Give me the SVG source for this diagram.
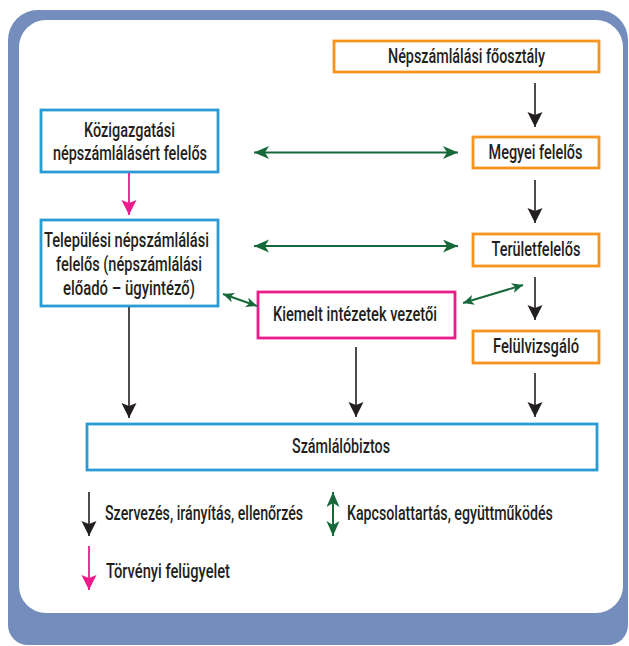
<svg xmlns="http://www.w3.org/2000/svg" width="629" height="646" viewBox="0 0 629 646">
<style>
.box{fill:#fff;stroke-width:2.8}
.or{stroke:#f7941d}
.bl{stroke:#2a9bd5}
.pk{stroke:#ec1c8c}
text{font-family:Roboto,"Liberation Sans",Arial,sans-serif;font-weight:500;font-size:20px;fill:#231f20;text-anchor:middle}
.lg{text-anchor:start}
.k{stroke:#231f20;stroke-width:1.6;fill:none}
.p{stroke:#ec1c8c;stroke-width:1.8;fill:none}
.g{stroke:#17693a;stroke-width:2;fill:none}
</style>
<defs>
<marker id="ak" markerUnits="userSpaceOnUse" markerWidth="16" markerHeight="16" refX="15" refY="7.5" orient="auto" viewBox="0 0 16 16">
<path d="M0,0 L15,7.5 L0,15 L3,7.5 Z" fill="#231f20"/>
</marker>
<marker id="ap" markerUnits="userSpaceOnUse" markerWidth="16" markerHeight="16" refX="15" refY="7.5" orient="auto" viewBox="0 0 16 16">
<path d="M0,0 L15,7.5 L0,15 L3,7.5 Z" fill="#ec1c8c"/>
</marker>
<marker id="ag" markerUnits="userSpaceOnUse" markerWidth="16" markerHeight="14" refX="15" refY="6.5" orient="auto-start-reverse" viewBox="0 0 16 14">
<path d="M0,0 L15,6.5 L0,13 L4,6.5 Z" fill="#17693a"/>
</marker>
<marker id="ags" markerUnits="userSpaceOnUse" markerWidth="12" markerHeight="10" refX="11" refY="5" orient="auto-start-reverse" viewBox="0 0 12 10">
<path d="M0,0 L11,5 L0,10 L3,5 Z" fill="#17693a"/>
</marker>
</defs>
<path d="M38,10 H598 A30,30 0 0 1 628,40 V625 A20,20 0 0 1 608,645 H28 A20,20 0 0 1 8,625 V40 A30,30 0 0 1 38,10 Z" fill="#758dbd"/>
<rect x="19" y="20" width="604" height="593" rx="27" fill="#fff"/>

<g id="n-foosztaly"><rect class="box or" x="334" y="41" width="265" height="31"/><text x="466.5" y="63" textLength="157" lengthAdjust="spacingAndGlyphs">Népszámlálási főosztály</text></g>
<g id="n-megyei"><rect class="box or" x="473" y="137" width="126" height="31"/><text x="535.5" y="158.5" textLength="94" lengthAdjust="spacingAndGlyphs">Megyei felelős</text></g>
<g id="n-terulet"><rect class="box or" x="473" y="234" width="126" height="32"/><text x="536" y="256" textLength="89" lengthAdjust="spacingAndGlyphs">Területfelelős</text></g>
<g id="n-felulvizsgalo"><rect class="box or" x="473" y="331" width="126" height="32"/><text x="536" y="353" textLength="86" lengthAdjust="spacingAndGlyphs">Felülvizsgáló</text></g>
<g id="n-kozigazgatasi"><rect class="box bl" x="41" y="110" width="177" height="62"/><text x="129.5" y="137" textLength="91" lengthAdjust="spacingAndGlyphs">Közigazgatási</text><text x="130" y="160" textLength="154" lengthAdjust="spacingAndGlyphs">népszámlálásért felelős</text></g>
<g id="n-telepulesi"><rect class="box bl" x="41" y="220" width="177" height="86"/><text x="126.5" y="247" textLength="165" lengthAdjust="spacingAndGlyphs">Települési népszámlálási</text><text x="129" y="271" textLength="146" lengthAdjust="spacingAndGlyphs">felelős (népszámlálási</text><text x="129" y="295" textLength="132" lengthAdjust="spacingAndGlyphs">előadó – ügyintéző)</text></g>
<g id="n-kiemelt"><rect class="box pk" x="258" y="292" width="197" height="46"/><text x="355" y="321" textLength="164" lengthAdjust="spacingAndGlyphs">Kiemelt intézetek vezetői</text></g>
<g id="n-szamlalobiztos"><rect class="box bl" x="87" y="424" width="510" height="46"/><text x="341" y="453" textLength="98" lengthAdjust="spacingAndGlyphs">Számlálóbiztos</text></g>

<g id="connectors">
<line class="k" x1="535" y1="83" x2="535" y2="127" marker-end="url(#ak)"/>
<line class="k" x1="535" y1="180" x2="535" y2="223" marker-end="url(#ak)"/>
<line class="k" x1="535" y1="277" x2="535" y2="320" marker-end="url(#ak)"/>
<line class="k" x1="535" y1="373" x2="535" y2="417" marker-end="url(#ak)"/>
<line class="k" x1="129" y1="307" x2="129" y2="418" marker-end="url(#ak)"/>
<line class="k" x1="356" y1="347" x2="356" y2="417" marker-end="url(#ak)"/>
<line class="p" x1="129" y1="173" x2="129" y2="215" marker-end="url(#ap)"/>
<line class="g" x1="254" y1="152.5" x2="458" y2="152.5" marker-start="url(#ag)" marker-end="url(#ag)"/>
<line class="g" x1="254" y1="246" x2="458" y2="246" marker-start="url(#ag)" marker-end="url(#ag)"/>
<line class="g" x1="223" y1="294" x2="257" y2="306" marker-start="url(#ags)" marker-end="url(#ags)"/>
<line class="g" x1="463" y1="303" x2="523" y2="285" marker-start="url(#ags)" marker-end="url(#ags)"/>
</g>

<g id="legend">
<line class="k" x1="89" y1="492" x2="89" y2="536" marker-end="url(#ak)"/>
<text class="lg" transform="translate(105,520) scale(0.7,1)" x="0" y="0" textLength="283" lengthAdjust="spacingAndGlyphs">Szervezés, irányítás, ellenőrzés</text>
<line class="g" x1="333" y1="492" x2="333" y2="536" stroke-width="1.6" marker-start="url(#ag)" marker-end="url(#ag)"/>
<text class="lg" transform="translate(347,520) scale(0.7,1)" x="0" y="0" textLength="294" lengthAdjust="spacingAndGlyphs">Kapcsolattartás, együttműködés</text>
<line class="p" x1="89" y1="546" x2="89" y2="590" marker-end="url(#ap)"/>
<text class="lg" x="106" y="578" textLength="124" lengthAdjust="spacingAndGlyphs">Törvényi felügyelet</text>
</g>
</svg>
